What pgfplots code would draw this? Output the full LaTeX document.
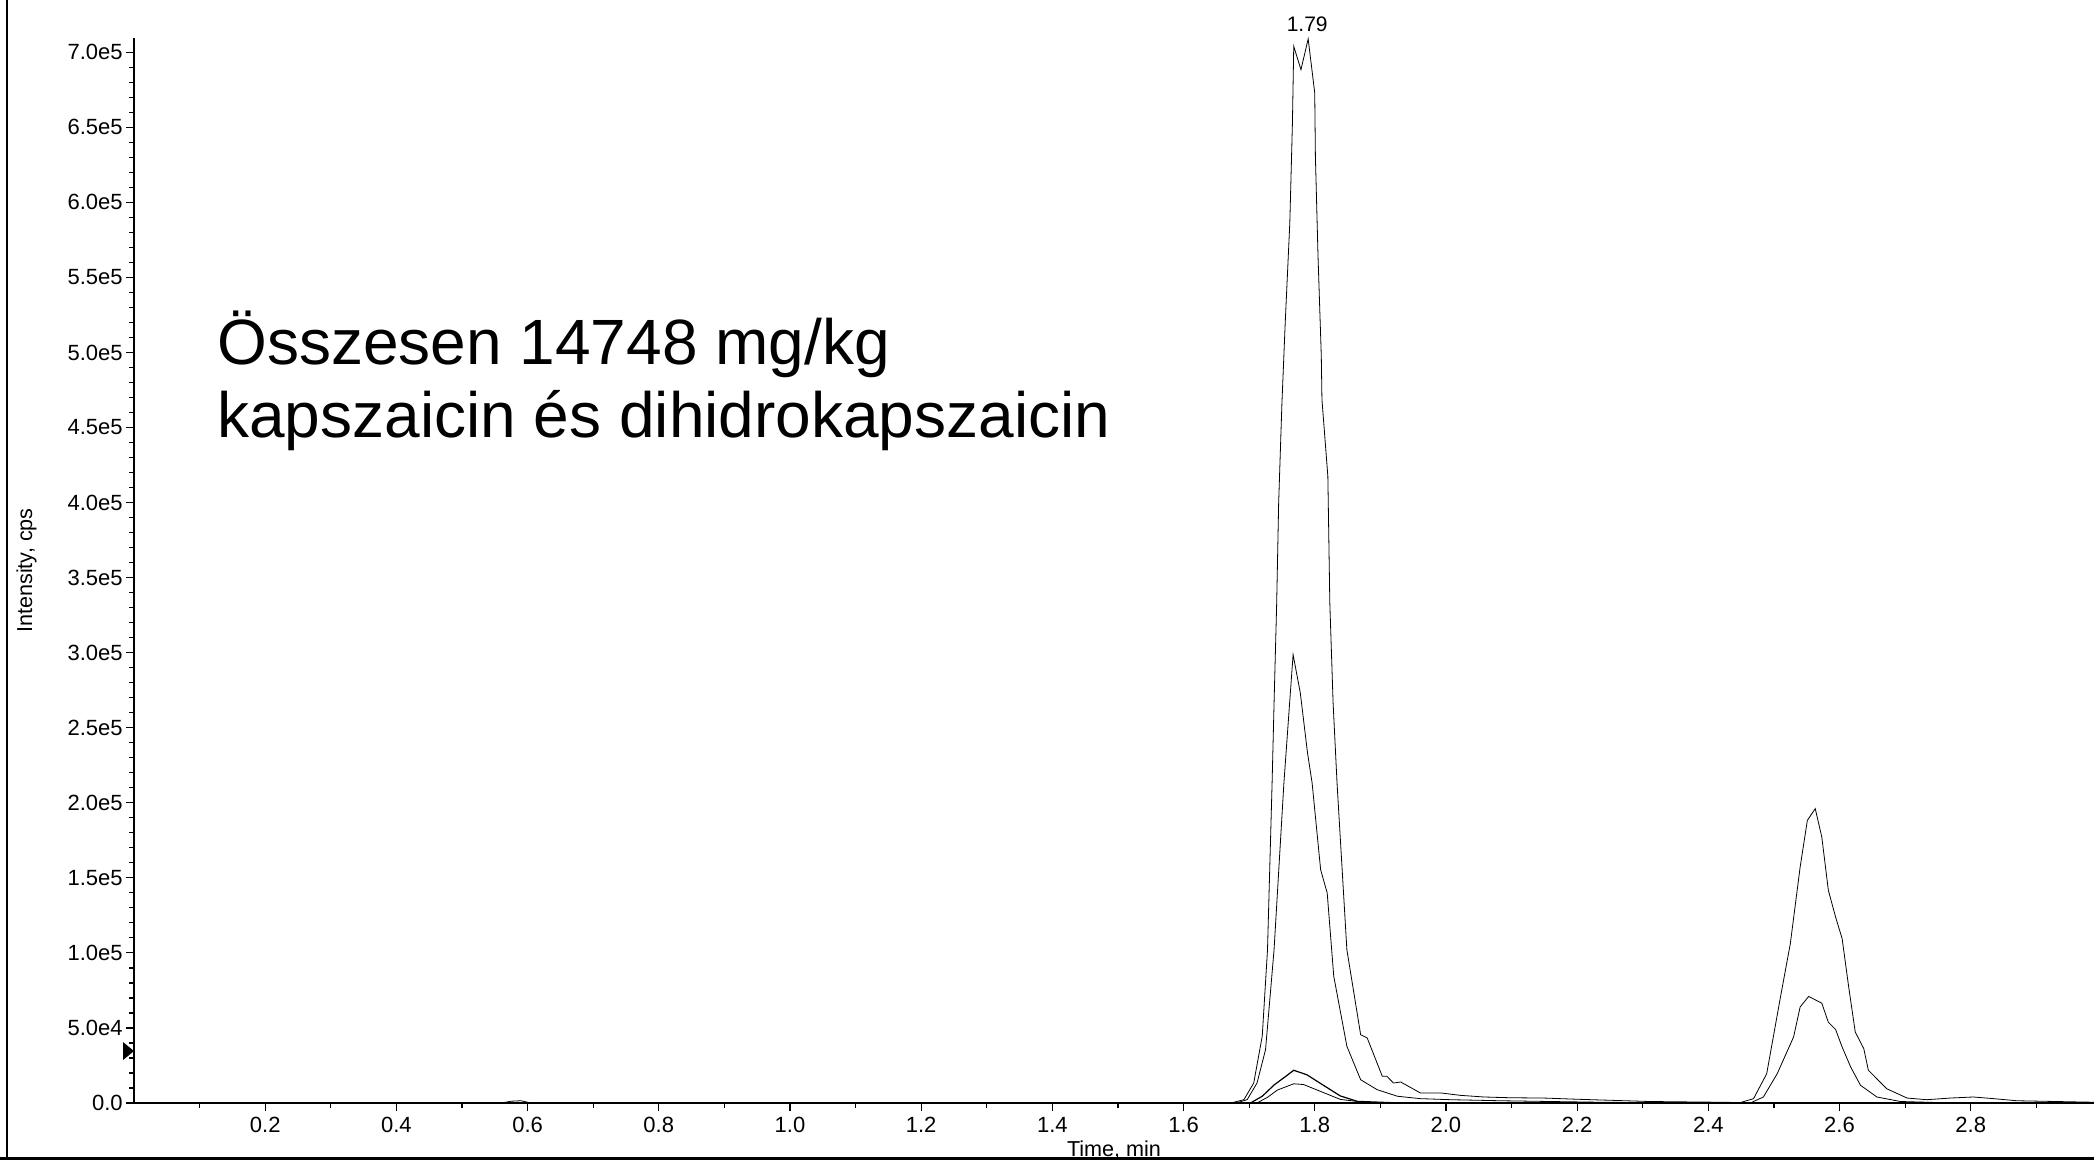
\documentclass[border=0pt]{standalone}
\usepackage{fontspec}
\setmainfont{Liberation Sans}
\usepackage{pgfplots}
\pgfplotsset{compat=1.18}
\begin{document}
\begin{tikzpicture}
\useasboundingbox (0,0) rectangle (1047bp,580bp);
\begin{axis}[
  at={(67bp,28.5bp)}, anchor=south west,
  scale only axis, width=980bp, height=532.5bp,
  xmin=0, xmax=2.988, ymin=0, ymax=709500,
  axis x line*=bottom, axis y line*=left,
  axis line style={line width=0.8bp, -},
  tick align=outside,
  major tick length=4bp, minor tick length=2.5bp,
  every tick/.style={line width=0.6bp, black},
  xtick={0.2,0.4,0.6,0.8,1.0,1.2,1.4,1.6,1.8,2.0,2.2,2.4,2.6,2.8},
  xticklabels={0.2,0.4,0.6,0.8,1.0,1.2,1.4,1.6,1.8,2.0,2.2,2.4,2.6,2.8},
  minor xtick={0.1,0.3,0.5,0.7,0.9,1.1,1.3,1.5,1.7,1.9,2.1,2.3,2.5,2.7,2.9},
  ytick={0,50000,100000,150000,200000,250000,300000,350000,400000,450000,500000,550000,600000,650000,700000},
  yticklabels={0.0,5.0e4,1.0e5,1.5e5,2.0e5,2.5e5,3.0e5,3.5e5,4.0e5,4.5e5,5.0e5,5.5e5,6.0e5,6.5e5,7.0e5},
  minor ytick={10000,20000,...,700000},
  scaled y ticks=false,
  /pgf/number format/assume math mode=true,
  ticklabel style={font=\fontsize{11bp}{13bp}\selectfont, inner sep=0pt},
  yticklabel style={anchor=east},
  xticklabel style={anchor=north},
  yticklabel shift=1.5bp,
  xticklabel shift=3bp,
  label style={font=\fontsize{10.8bp}{13bp}\selectfont, inner sep=0pt},
  xlabel={Time, min},
  xlabel style={at={(axis description cs:0.5,-0.04977)}, anchor=base},
  ylabel={Intensity, cps},
  ylabel style={at={(axis description cs:-0.05204,0.5)}, anchor=base},
  clip=false,
  cycle list={{black, mark=none, line width=0.6bp, line join=round}},
]
% trace A (largest)
\addplot coordinates {(0.0,0) (0.56,0) (0.575,1200) (0.59,1500) (0.605,0) (1.60,0) (1.672,0) (1.692,2200) (1.707,13300) (1.720,44600) (1.728,102100) (1.735,213200) (1.738,266500) (1.742,333100) (1.745,399700) (1.750,466400) (1.755,519700) (1.762,586300) (1.766,652900) (1.768,704000) (1.779,688400) (1.790,708900) (1.800,672900) (1.801,630900) (1.805,564300) (1.810,497700) (1.811,468600) (1.820,417500) (1.823,333100) (1.828,266500) (1.834,213200) (1.849,102100) (1.870,45500) (1.880,43300) (1.903,17800) (1.910,17800) (1.920,13300) (1.931,14000) (1.961,6700) (1.992,6700) (2.022,5100) (2.058,4000) (2.098,3500) (2.149,3300) (2.200,2500) (2.31,1000) (2.418,500) (2.449,300) (2.469,2900) (2.489,19500) (2.510,70600) (2.525,106100) (2.540,157200) (2.551,188300) (2.563,196100) (2.573,177200) (2.583,141700) (2.594,123900) (2.604,109500) (2.614,77300) (2.624,47300) (2.637,36200) (2.644,21800) (2.672,9500) (2.703,3300) (2.733,2200) (2.769,3300) (2.804,4000) (2.835,2900) (2.870,1500) (2.988,500)};
% trace B
\addplot coordinates {(0,0) (1.60,0) (1.680,0) (1.697,2200) (1.712,13300) (1.725,35500) (1.738,102100) (1.753,213200) (1.767,298700) (1.778,273200) (1.789,233200) (1.796,213200) (1.809,155400) (1.819,139900) (1.829,84400) (1.849,37800) (1.870,15500) (1.895,8900) (1.926,4500) (1.961,2900) (2.007,2200) (2.083,1500) (2.235,500) (2.388,0) (2.464,0) (2.484,4000) (2.505,19500) (2.530,44000) (2.540,64000) (2.553,71000) (2.573,66500) (2.583,53800) (2.594,49000) (2.604,37300) (2.617,24000) (2.632,11800) (2.657,4000) (2.693,1000) (2.75,300) (2.988,0)};
% trace C
\addplot coordinates {(0,0) (1.702,0) (1.72,4500) (1.738,12000) (1.755,17500) (1.768,21800) (1.788,18800) (1.814,11600) (1.839,4700) (1.865,1100) (1.931,0) (2.988,0)};
% trace D
\addplot coordinates {(0,0) (1.712,0) (1.728,3800) (1.743,8600) (1.768,12800) (1.783,12300) (1.809,7700) (1.839,2400) (1.885,0) (2.988,0)};
\node[font=\fontsize{10.5bp}{12bp}\selectfont, anchor=base, inner sep=0pt] at (axis cs:1.7885,714000) {1.79};
\fill (axis cs:0,34600) -- ++(-5.5bp,4.5bp) -- ++(0,-9bp) -- cycle;
\end{axis}
\node[anchor=base west, inner sep=0pt, font=\fontsize{32bp}{36bp}\selectfont] at (108.5bp,397.75bp) {Összesen 14748 mg/kg};
\node[anchor=base west, inner sep=0pt, font=\fontsize{32bp}{36bp}\selectfont] at (108.5bp,361bp) {kapszaicin és dihidrokapszaicin};
\draw[line width=1.2bp] (3.5bp,0) -- (3.5bp,580bp);
\draw[line width=1.5bp] (0,0.9bp) -- (1047bp,0.9bp);
\end{tikzpicture}
\end{document}
